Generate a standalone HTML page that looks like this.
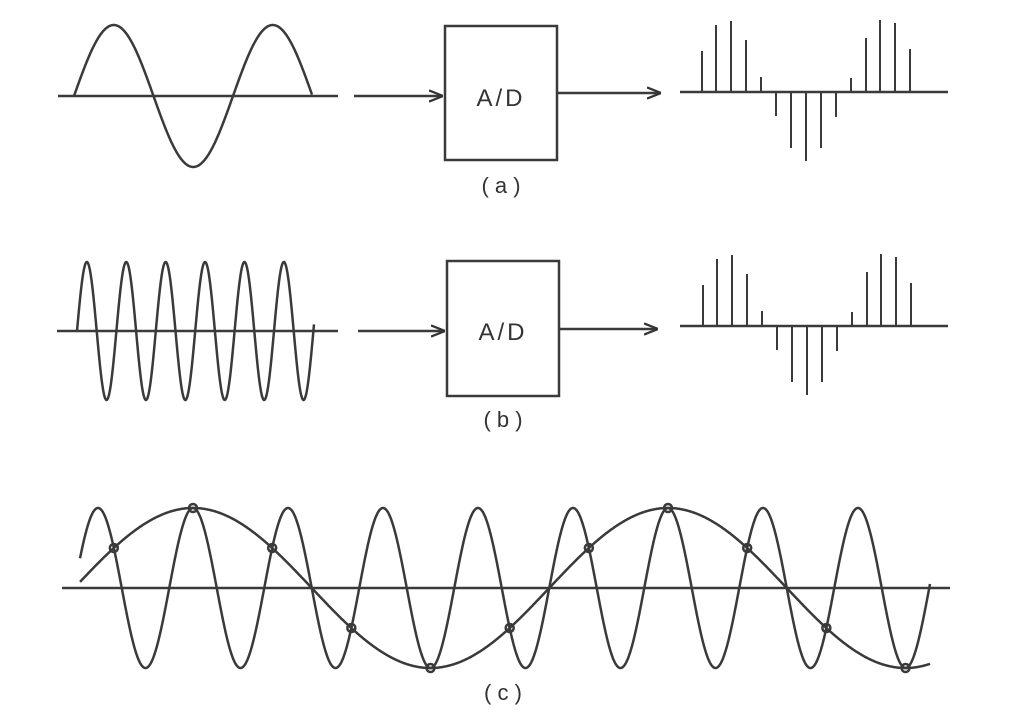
<!DOCTYPE html>
<html><head><meta charset="utf-8"><style>
html,body{margin:0;padding:0;background:#fff;}
svg{display:block;}
text{font-family:"Liberation Sans",sans-serif;fill:#333;}
</style></head><body>
<svg id="s" width="1016" height="724" viewBox="0 0 1016 724" xmlns="http://www.w3.org/2000/svg">
<defs>
<marker id="ah2" viewBox="0 0 10 10" refX="10" refY="5" markerWidth="14" markerHeight="14" orient="auto" markerUnits="userSpaceOnUse"><path d="M0,1 L10,5 L0,9" fill="none" stroke="#333" stroke-width="1.6"/></marker></defs>
<g stroke="#3a3a3a" stroke-width="2.5" fill="none">
<line x1="58" y1="96" x2="338" y2="96"/>
<line x1="354" y1="96" x2="443" y2="96" marker-end="url(#ah2)"/>
<rect x="445" y="26" width="112" height="134"/>
<line x1="557" y1="93" x2="661" y2="93" marker-end="url(#ah2)"/>
<line x1="680" y1="92" x2="948" y2="92"/>
<line x1="57" y1="331" x2="338" y2="331"/>
<line x1="358" y1="331" x2="445" y2="331" marker-end="url(#ah2)"/>
<rect x="447" y="261" width="112" height="135"/>
<line x1="559" y1="329" x2="658" y2="329" marker-end="url(#ah2)"/>
<line x1="680" y1="326" x2="948" y2="326"/>
<line x1="62" y1="588" x2="950" y2="588"/>
<g id="dyn"></g>
</g>
<text x="501" y="106" font-size="24" text-anchor="middle" letter-spacing="3">A/D</text>
<text x="503" y="340" font-size="24" text-anchor="middle" letter-spacing="3">A/D</text>
<text x="501" y="193" font-size="22" text-anchor="middle">( a )</text>
<text x="503" y="427" font-size="22" text-anchor="middle">( b )</text>
<text x="503" y="700" font-size="22" text-anchor="middle">( c )</text>
</svg>
<script>
var g=document.getElementById('dyn'),NS='http://www.w3.org/2000/svg';
function path(f,x0,x1){var d='';for(var x=x0;x<=x1;x+=0.5){d+=(d?'L':'M')+x.toFixed(1)+','+f(x).toFixed(1);}var p=document.createElementNS(NS,'path');p.setAttribute('d',d);g.appendChild(p);}
function line(x1,y1,x2,y2){var l=document.createElementNS(NS,'line');l.setAttribute('x1',x1);l.setAttribute('y1',y1);l.setAttribute('x2',x2);l.setAttribute('y2',y2);l.setAttribute('stroke-width','2');g.appendChild(l);}
path(function(x){return 96-71*Math.sin(2*Math.PI*(x-74)/159);},74,312);
path(function(x){return 331-69*Math.sin(2*Math.PI*(x-77)/39.4);},77,314);
var xs=[702,716,731,746,761,776,791,806,821,836,851,866,880,895,910];
var ta=[51,25,21,40,77,116,148,161,148,117,78,38,20,23,49];
for(var i=0;i<xs.length;i++){line(xs[i],92,xs[i],ta[i]);line(xs[i]+1,326,xs[i]+1,ta[i]+234);}
path(function(x){return 588-80*Math.cos(2*Math.PI*(x-193)/95);},80,930);
path(function(x){return 588-80*Math.cos(2*Math.PI*(x-193)/475);},80,930);
for(var k=-1;k<10;k++){var x=193+79.17*k;var y=588-80*Math.cos(2*Math.PI*(x-193)/475);var c=document.createElementNS(NS,'circle');c.setAttribute('cx',x);c.setAttribute('cy',y);c.setAttribute('r',4);c.setAttribute('stroke-width','2.5');g.appendChild(c);}
</script>
</body></html>
